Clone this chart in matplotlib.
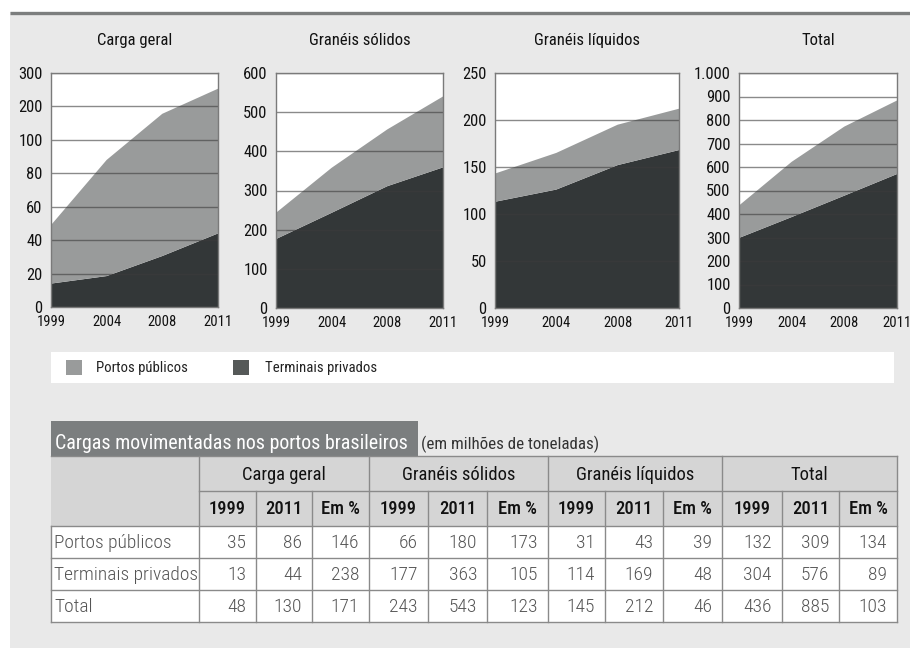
import matplotlib.pyplot as plt
from matplotlib.patches import Rectangle
import numpy as np

plt.rcParams['font.family'] = ['Roboto Condensed', 'Liberation Sans', 'DejaVu Sans']

# chart data, x = years, equally spaced
anos = ['1999', '2004', '2008', '2011']

cg_privados = [14, 18.5, 30.5, 44]
cg_total = [49, 88, 178, 253]
gs_privados = [176, 243, 311, 359]
gs_total = [243, 358, 456, 540]
gl_privados = [113, 126, 152, 168]
gl_total = [143, 165, 195, 212]
tot_privados = [298, 387, 478, 570]
tot_total = [436, 622, 772, 883]

cg_ticks = [0, 20, 40, 60, 80, 100, 200, 300]
gs_ticks = [0, 100, 200, 300, 400, 500, 600]
gl_ticks = [0, 50, 100, 150, 200, 250]
tot_ticks = [0, 100, 200, 300, 400, 500, 600, 700, 800, 900, 1000]
tot_ticklabels = ['0', '100', '200', '300', '400', '500', '600', '700', '800', '900', '1.000']

# table data
grupos = ['Carga geral', 'Granéis sólidos', 'Granéis líquidos', 'Total']
colunas = ['1999', '2011', 'Em %']
linhas = ['Portos públicos', 'Terminais privados', 'Total']
tab_cg = [[35, 86, 146], [13, 44, 238], [48, 130, 171]]
tab_gs = [[66, 180, 173], [177, 363, 105], [243, 543, 123]]
tab_gl = [[31, 43, 39], [114, 169, 48], [145, 212, 46]]
tab_tot = [[132, 309, 134], [304, 576, 89], [436, 885, 103]]

legenda = ['Portos públicos', 'Terminais privados']

CLARO = '#999b9b'
ESCURO = '#333738'
FUNDO = '#e9e9e9'

W, H = 910, 648
fig = plt.figure(figsize=(W / 100, H / 100), dpi=100)
fig.patch.set_facecolor('white')


def rect(x0, y0, x1, y1):
    return [x0 / W, 1 - y1 / H, (x1 - x0) / W, (y1 - y0) / H]


# background / overlay axes in pixel coordinates
bg = fig.add_axes([0, 0, 1, 1])
bg.set_xlim(0, W)
bg.set_ylim(H, 0)
bg.axis('off')
bg.add_patch(Rectangle((10, 12), W - 10, H - 12, color=FUNDO, lw=0))
bg.plot([10, W], [12.5, 12.5], color='#7c7e7e', lw=2.4, solid_capstyle='butt')


def piece_fwd(v):
    v = np.asarray(v, dtype=float)
    return np.where(v <= 100, v / 20.0, 5 + (v - 100) / 100.0)


def piece_inv(u):
    u = np.asarray(u, dtype=float)
    return np.where(u <= 5, u * 20.0, 100 + (u - 5) * 100.0)


paineis = [
    ('Carga geral', (51, 73, 218, 307), cg_privados, cg_total, cg_ticks, None, True),
    ('Granéis sólidos', (276, 73, 443, 308), gs_privados, gs_total, gs_ticks, None, False),
    ('Granéis líquidos', (495, 73, 679, 308), gl_privados, gl_total, gl_ticks, None, False),
    ('Total', (739, 73, 897, 308), tot_privados, tot_total, tot_ticks, tot_ticklabels, False),
]

for titulo, box, priv, tot, ticks, labels, quebra in paineis:
    ax = fig.add_axes(rect(*box))
    x = np.arange(len(anos))
    pub = np.array(tot) - np.array(priv)
    ax.stackplot(x, priv, pub, colors=[ESCURO, CLARO], lw=0)
    if quebra:
        ax.set_yscale('function', functions=(piece_fwd, piece_inv))
    ax.set_xlim(0, len(anos) - 1)
    ax.set_ylim(ticks[0], ticks[-1])
    ax.set_yticks(ticks)
    ax.set_yticklabels(labels if labels else [str(t) for t in ticks])
    ax.set_xticks(x)
    ax.set_xticklabels(anos)
    ax.yaxis.set_minor_locator(plt.NullLocator())
    ax.tick_params(axis='y', length=0, pad=6, labelsize=11.9, colors='#111111')
    ax.tick_params(axis='x', length=0, pad=6, labelsize=10.5, colors='#111111')
    ax.grid(axis='y', color='#3c3c3c', alpha=0.6, lw=1)
    for s in ax.spines.values():
        s.set_color('#7a7a7a')
        s.set_linewidth(1)
    ax.set_facecolor('white')
    cx = (box[0] + box[2]) / 2
    bg.text(cx, 45, titulo, ha='center', va='baseline', fontsize=12, color='#111111')

# legend band
bg.add_patch(Rectangle((51, 352), 894 - 51, 31, color='white', lw=0))
for (sx, tx), lab, cor in zip([(66, 96), (233, 265)], legenda, [CLARO, '#555958']):
    bg.add_patch(Rectangle((sx, 360), 16, 15, color=cor, lw=0))
    bg.text(tx, 368, lab, ha='left', va='center', fontsize=10.6, color='#222222')

# table
bg.add_patch(Rectangle((51, 421), 418 - 51, 35, color='#7b7e7f', lw=0))
bg.text(55, 449, 'Cargas movimentadas nos portos brasileiros', ha='left', va='baseline',
        fontsize=14.4, color='white')
bg.text(421, 449, '(em milhões de toneladas)', ha='left', va='baseline',
        fontsize=12.2, color='#333333')

col_x = [199, 256, 312, 369, 428, 487, 548, 605, 663, 722, 782, 839, 897]
row_y = [456, 491, 526, 558, 590, 622]
esq = 51
LC = '#8a8a8a'

bg.add_patch(Rectangle((esq, row_y[0]), col_x[-1] - esq, row_y[2] - row_y[0], color='#d5d5d5', lw=0))
bg.add_patch(Rectangle((esq, row_y[2]), col_x[-1] - esq, row_y[-1] - row_y[2], color='white', lw=0))

bg.plot([esq, col_x[-1]], [row_y[0], row_y[0]], color=LC, lw=1)
bg.plot([col_x[0], col_x[-1]], [row_y[1], row_y[1]], color=LC, lw=1)
for yy in row_y[2:]:
    bg.plot([esq, col_x[-1]], [yy, yy], color=LC, lw=1)
bg.plot([esq, esq], [row_y[2], row_y[-1]], color=LC, lw=1)
for i, xx in enumerate(col_x):
    y0 = row_y[0] if i % 3 == 0 else row_y[1]
    bg.plot([xx, xx], [y0, row_y[-1]], color=LC, lw=1)

tabelas = [tab_cg, tab_gs, tab_gl, tab_tot]
for g, (nome, tab) in enumerate(zip(grupos, tabelas)):
    gx0, gx1 = col_x[3 * g], col_x[3 * g + 3]
    bg.text((gx0 + gx1) / 2, (row_y[0] + row_y[1]) / 2 + 1, nome, ha='center', va='center',
            fontsize=13.3, color='#111111')
    for c, sub in enumerate(colunas):
        cx0, cx1 = col_x[3 * g + c], col_x[3 * g + c + 1]
        bg.text((cx0 + cx1) / 2, (row_y[1] + row_y[2]) / 2 + 1, sub, ha='center', va='center',
                fontsize=13.3, fontweight='medium', color='#111111')
        for r in range(len(linhas)):
            bg.text(cx1 - 10, (row_y[2 + r] + row_y[3 + r]) / 2 + 1, str(tab[r][c]),
                    ha='right', va='center', fontsize=14, fontweight='light', color='#555555')

for r, lab in enumerate(linhas):
    bg.text(esq + 3, (row_y[2 + r] + row_y[3 + r]) / 2 + 1, lab, ha='left', va='center',
            fontsize=14, fontweight='light', color='#555555')

fig.savefig('out.png', dpi=100)
